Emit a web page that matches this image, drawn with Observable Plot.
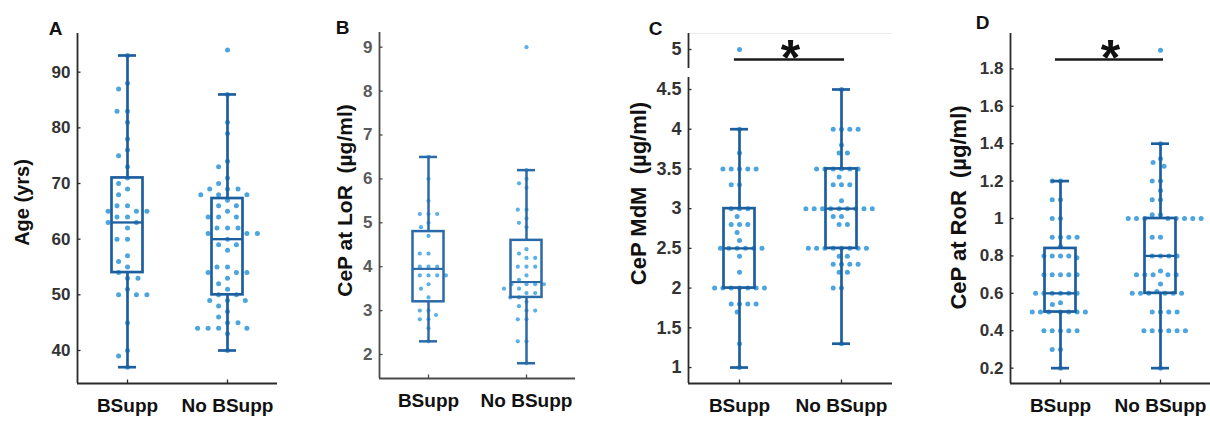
<!DOCTYPE html>
<html>
<head>
<meta charset="utf-8">
<script src="https://cdn.jsdelivr.net/npm/d3@7"></script>
<script src="https://cdn.jsdelivr.net/npm/@observablehq/plot@0.6"></script>
<style>
html, body { margin: 0; padding: 0; background: #fff; }
#chart { position: relative; width: 1210px; height: 421px; overflow: hidden; background: #fff; }
#chart svg { position: absolute; top: 0; }
</style>
</head>
<body>
<div id="chart"></div>
<script>
// ---------------- data ----------------
const categories = ["BSupp", "No BSupp"];

// Panel A: Age (yrs)
const ageBSupp = [93, 88, 87, 83, 83, 81, 78, 76, 75, 73, 71, 70, 69, 68, 66, 66, 65, 65, 65, 64, 64, 63, 63, 62, 60, 60, 57, 56, 55, 54, 53, 53, 51, 50, 50, 50, 45, 40, 39, 37];
const ageNoBSupp = [94, 86, 81, 79, 74, 73, 71, 70, 69, 69, 69, 68, 68, 68, 67, 66, 66, 65, 64, 64, 64, 62, 62, 62, 61, 61, 61, 60, 59, 59, 58, 55, 55, 54, 54, 54, 53, 52, 51, 50, 50, 49, 49, 49, 48, 47, 46, 45, 45, 44, 44, 44, 44, 43, 40];
// [lower whisker, Q1, median, Q3, upper whisker]
const ageBox = [[37, 54, 63, 71, 93], [40, 50, 60, 67.3, 86]];
const ageTicks = [40, 50, 60, 70, 80, 90];

// Panel B: CeP at LoR (µg/ml)
const lorBSupp = [6.5, 6.0, 5.5, 5.2, 5.2, 5.2, 5.0, 4.9, 4.7, 4.3, 4.3, 4.0, 4.0, 4.0, 3.8, 3.8, 3.8, 3.8, 3.6, 3.5, 3.3, 3.0, 3.0, 2.9, 2.8, 2.8, 2.6, 2.3];
const lorNoBSupp = [9.0, 6.2, 6.0, 5.9, 5.8, 5.3, 5.3, 5.1, 5.0, 4.9, 4.4, 4.3, 4.2, 4.2, 4.0, 4.0, 4.0, 3.8, 3.7, 3.6, 3.6, 3.6, 3.6, 3.5, 3.5, 3.4, 3.4, 3.3, 3.3, 3.2, 3.1, 3.0, 3.0, 2.8, 2.8, 2.3, 2.3, 1.8];
const lorBox = [[2.3, 3.2, 3.95, 4.8, 6.5], [1.8, 3.3, 3.65, 4.6, 6.2]];
const lorTicks = [2, 3, 4, 5, 6, 7, 8, 9];

// Panel C: CeP MdM (µg/ml)
const mdmBSupp = [5.0, 4.0, 3.7, 3.5, 3.5, 3.5, 3.5, 3.5, 3.3, 3.3, 3.0, 3.0, 3.0, 2.9, 2.8, 2.8, 2.8, 2.7, 2.6, 2.5, 2.5, 2.5, 2.5, 2.5, 2.5, 2.4, 2.2, 2.0, 2.0, 2.0, 2.0, 2.0, 2.0, 2.0, 1.8, 1.8, 1.8, 1.8, 1.7, 1.3, 1.0];
const mdmNoBSupp = [4.5, 4.0, 4.0, 4.0, 4.0, 3.8, 3.7, 3.7, 3.5, 3.5, 3.5, 3.5, 3.5, 3.5, 3.4, 3.3, 3.3, 3.3, 3.1, 3.0, 3.0, 3.0, 3.0, 3.0, 3.0, 3.0, 3.0, 3.0, 2.9, 2.9, 2.8, 2.8, 2.5, 2.5, 2.5, 2.5, 2.5, 2.5, 2.5, 2.5, 2.4, 2.4, 2.3, 2.3, 2.3, 2.3, 2.2, 2.2, 2.0, 2.0, 1.3];
const mdmBox = [[1.0, 2.0, 2.5, 3.0, 4.0], [1.3, 2.5, 3.0, 3.5, 4.5]];
const mdmTicks = [1, 1.5, 2, 2.5, 3, 3.5, 4, 4.5];
const mdmTicksUpper = [5];

// Panel D: CeP at RoR (µg/ml)
const rorBSupp = [1.2, 1.2, 1.1, 1.1, 1.0, 1.0, 0.9, 0.9, 0.9, 0.9, 0.85, 0.8, 0.8, 0.8, 0.8, 0.79, 0.7, 0.7, 0.7, 0.7, 0.7, 0.6, 0.6, 0.6, 0.6, 0.6, 0.6, 0.55, 0.54, 0.5, 0.5, 0.5, 0.5, 0.5, 0.5, 0.5, 0.4, 0.4, 0.4, 0.4, 0.4, 0.3, 0.3, 0.2];
const rorNoBSupp = [1.9, 1.4, 1.32, 1.3, 1.28, 1.2, 1.2, 1.15, 1.1, 1.1, 1.02, 1.02, 1.0, 1.0, 1.0, 1.0, 1.0, 1.0, 1.0, 1.0, 0.9, 0.9, 0.8, 0.8, 0.8, 0.8, 0.72, 0.7, 0.7, 0.7, 0.7, 0.7, 0.65, 0.61, 0.6, 0.6, 0.6, 0.6, 0.6, 0.6, 0.5, 0.5, 0.5, 0.5, 0.4, 0.4, 0.4, 0.4, 0.4, 0.4, 0.2];
const rorBox = [[0.2, 0.5, 0.6, 0.84, 1.2], [0.2, 0.6, 0.8, 1.0, 1.4]];
const rorTicks = [0.2, 0.4, 0.6, 0.8, 1.0, 1.2, 1.4, 1.6, 1.8];

const panelLetters = ["A", "B", "C", "D"];
const yLabels = ["Age (yrs)", "CeP at LoR  (\u00b5g/ml)", "CeP MdM  (\u00b5g/ml)", "CeP at RoR  (\u00b5g/ml)"];
const sigText = "*";

// ---------------- drawing ----------------
const chart = document.getElementById("chart");
const FONT = "'Liberation Sans', Arial, Helvetica, sans-serif";

function makePanel(o) {
  const innerW = o.width - o.ml - o.mr;
  const innerH = o.height - o.mt - o.mb;
  const yPx = innerH / (o.domain[1] - o.domain[0]);
  const xPx = innerW / 2;
  const ax = o.axisColor;
  const marks = [];
  if (o.topLine) marks.push(Plot.ruleY([o.domain[1]], {x1: 0.5, x2: 2.5, stroke: "#ececec", strokeWidth: 1}));
  // y axis line + inward ticks + labels
  marks.push(Plot.ruleX([0.5], {y1: o.domain[0], y2: o.domain[1], stroke: ax, strokeWidth: 1.8}));
  marks.push(Plot.ruleY(o.ticks, {x1: 0.5, x2: 0.5 + 3.5 / xPx, stroke: ax, strokeWidth: 1.3}));
  marks.push(Plot.axisY({ticks: o.ticks, tickSize: 0, tickPadding: 7, tickFormat: d => String(+(+d).toFixed(2)),
    fontSize: o.tickFont, fontWeight: "bold", fill: o.tickColor, label: null}));
  if (o.xAxis) {
    marks.push(Plot.ruleY([o.domain[0]], {x1: 0.5, x2: 2.5, stroke: ax, strokeWidth: 1.8}));
    marks.push(Plot.ruleX([1, 2], {y1: o.domain[0], y2: o.domain[0] + 3.5 / yPx, stroke: ax, strokeWidth: 1.3}));
    marks.push(Plot.axisX({ticks: [1, 2], tickSize: 0, tickPadding: 15, tickFormat: d => categories[d - 1],
      fontSize: 19, fontWeight: "bold", fill: "#111", label: null}));
  }
  // jittered (swarm) points
  o.groups.forEach((vals, gi) => {
    const pts = vals.filter(v => v >= o.domain[0] && v <= o.domain[1]);
    if (!pts.length) return;
    marks.push(Plot.dot(pts, Plot.dodgeX({anchor: "middle", padding: o.pad},
      {y: d => d, r: o.r, fill: o.dotColor, stroke: "none", dx: (gi === 0 ? -1 : 1) * innerW / 4})));
  });
  // boxes
  if (o.box) {
    const rows = o.box.map((s, i) => ({i: i + 1, lo: s[0], q1: s[1], med: s[2], q3: s[3], hi: s[4]}));
    const bw = 15.5 / xPx, cw = 9 / xPx;
    const st = {stroke: o.boxColor, strokeWidth: o.boxWidth};
    marks.push(Plot.ruleX(rows, {x: "i", y1: "q3", y2: "hi", ...st}));
    marks.push(Plot.ruleX(rows, {x: "i", y1: "lo", y2: "q1", ...st}));
    marks.push(Plot.ruleY(rows, {y: "hi", x1: d => d.i - cw, x2: d => d.i + cw, ...st}));
    marks.push(Plot.ruleY(rows, {y: "lo", x1: d => d.i - cw, x2: d => d.i + cw, ...st}));
    marks.push(Plot.rect(rows, {x1: d => d.i - bw, x2: d => d.i + bw, y1: "q1", y2: "q3", fill: "none", ...st}));
    marks.push(Plot.ruleY(rows, {y: "med", x1: d => d.i - bw, x2: d => d.i + bw, stroke: o.boxColor, strokeWidth: o.boxWidth * 0.85}));
  }
  // significance bar and star
  if (o.sig) {
    marks.push(Plot.ruleY([o.sig.level], {x1: 0.95, x2: 2.03, stroke: "#1a1a1a", strokeWidth: 2.4}));
    marks.push(Plot.text([sigText], {x: 1.5, y: o.sig.level, text: d => d, fontSize: 50, fontWeight: "bold",
      fill: "#111", lineAnchor: "middle", dy: o.sig.dy}));
  }
  if (o.ylabel) {
    marks.push(Plot.text([o.ylabel], {frameAnchor: "top-left", text: d => d, rotate: -90, textAnchor: "middle",
      lineAnchor: "middle", dx: o.labelPos[0] - o.ml, dy: o.labelPos[1] - o.mt, fontSize: o.labelFont,
      fontWeight: "bold", fill: "#111"}));
  }
  if (o.letter) {
    marks.push(Plot.text([o.letter], {frameAnchor: "top-left", text: d => d, textAnchor: "middle",
      lineAnchor: "middle", dx: o.letterPos[0] - o.ml, dy: o.letterPos[1] - o.mt, fontSize: 19,
      fontWeight: "bold", fill: "#111"}));
  }
  const svg = Plot.plot({
    width: o.width, height: o.height,
    marginLeft: o.ml, marginRight: o.mr, marginTop: o.mt, marginBottom: o.mb,
    x: {domain: [0.5, 2.5], axis: null},
    y: {domain: o.domain, axis: null},
    style: {background: "transparent", fontFamily: FONT, overflow: "visible"},
    marks
  });
  svg.style.position = "absolute";
  svg.style.left = o.left + "px";
  svg.style.top = (o.top || 0) + "px";
  chart.append(svg);
}

const DOT = "#4ca5df", BOX = "#1d5e9f", AX = "#2a2a2a";

// Panel A
makePanel({left: 0, width: 300, height: 421, ml: 77, mr: 23, mt: 33, mb: 38,
  domain: [34.07, 96.95], ticks: ageTicks, xAxis: true, groups: [ageBSupp, ageNoBSupp], box: ageBox,
  r: 2.5, pad: 5.5, dotColor: DOT, boxColor: BOX, boxWidth: 2.7, axisColor: AX, tickColor: "#333", tickFont: 17,
  ylabel: yLabels[0], labelPos: [22, 202], labelFont: 20, letter: panelLetters[0], letterPos: [55, 28]});

// Panel B
makePanel({left: 300, width: 300, height: 421, ml: 79, mr: 25, mt: 32, mb: 43,
  domain: [1.453, 9.335], ticks: lorTicks, xAxis: true, groups: [lorBSupp, lorNoBSupp], box: lorBox,
  r: 2.1, pad: 4.5, dotColor: "#5cb0e4", boxColor: "#2b6aa8", boxWidth: 2.5, axisColor: "#4a4a4a", tickColor: "#5a5a5a", tickFont: 17,
  ylabel: yLabels[1], labelPos: [45, 200], labelFont: 21, letter: panelLetters[1], letterPos: [42, 27]});

// Panel C (lower part of broken axis)
makePanel({left: 600, width: 310, height: 421, ml: 88, mr: 18, mt: 77, mb: 38,
  domain: [0.799, 4.651], ticks: mdmTicks, xAxis: true, groups: [mdmBSupp, mdmNoBSupp], box: mdmBox,
  r: 2.5, pad: 3.3, dotColor: DOT, boxColor: BOX, boxWidth: 2.7, axisColor: AX, tickColor: "#333", tickFont: 18,
  ylabel: yLabels[2], labelPos: [38, 193], labelFont: 22});
// Panel C (upper part of broken axis)
makePanel({left: 600, width: 310, height: 75, ml: 88, mr: 18, mt: 33, mb: 7,
  domain: [4.761, 5.201], ticks: mdmTicksUpper, xAxis: false, groups: [mdmBSupp, mdmNoBSupp], topLine: true,
  r: 2.5, pad: 3.3, dotColor: DOT, axisColor: AX, tickColor: "#333", tickFont: 18,
  sig: {level: 4.874, dy: -1}, letter: panelLetters[2], letterPos: [55, 28]});

// Panel D
makePanel({left: 910, width: 300, height: 421, ml: 100, mr: 0, mt: 33, mb: 38,
  domain: [0.118, 1.989], ticks: rorTicks, xAxis: true, groups: [rorBSupp, rorNoBSupp], box: rorBox,
  r: 2.5, pad: 3.3, dotColor: DOT, boxColor: BOX, boxWidth: 2.7, axisColor: AX, tickColor: "#333", tickFont: 17,
  sig: {level: 1.85, dy: -1},
  ylabel: yLabels[3], labelPos: [48, 207], labelFont: 22, letter: panelLetters[3], letterPos: [72, 22]});
</script>
</body>
</html>
